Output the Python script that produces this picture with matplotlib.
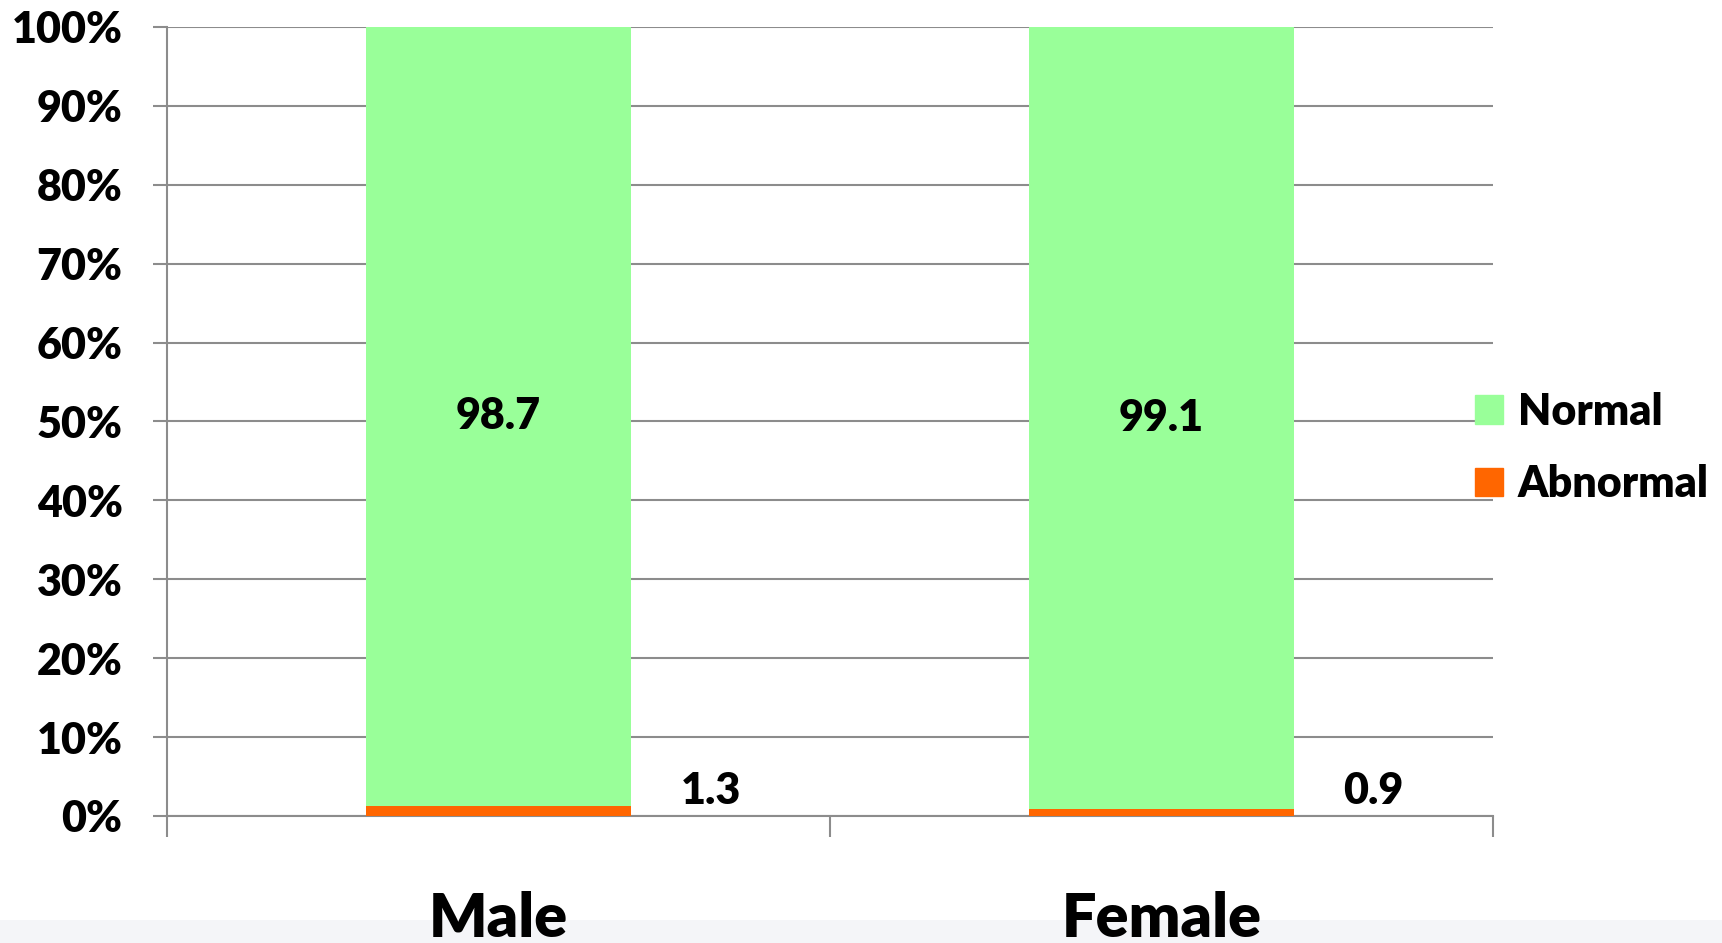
import matplotlib.pyplot as plt
from matplotlib.patches import Rectangle, Patch

plt.rcParams['font.family'] = ['Lato', 'DejaVu Sans']
plt.rcParams['font.weight'] = 'heavy'

groups = ["Male", "Female"]
normal = [98.7, 99.1]
abnormal = [1.3, 0.9]

fig = plt.figure(figsize=(17.22, 9.43), dpi=100)
ax = fig.add_axes([0.097, 0.1347, 0.77, 0.8367])

# faint band along the bottom edge of the original image (behind everything)
fig.patches.append(Rectangle((0, 0), 1, 23 / 943, transform=fig.transFigure,
                             facecolor='#f4f5f8', edgecolor='none', zorder=-5))

x = range(len(groups))
ax.bar(x, abnormal, width=0.4, color='#ff6600', zorder=3, label='Abnormal')
ax.bar(x, normal, width=0.4, bottom=abnormal, color='#99ff99', zorder=3, label='Normal')

for i in x:
    ax.text(i, abnormal[i] + normal[i] / 2, f"{normal[i]:.1f}", ha='center', va='center',
            fontsize=31, fontweight='heavy', zorder=4)
    ax.text(i + 0.32, 3.2, f"{abnormal[i]:.1f}", ha='center', va='center',
            fontsize=31, fontweight='heavy', zorder=4)

ax.set_xlim(-0.5, 1.5)
ax.set_ylim(0, 100)
ax.set_yticks(range(0, 101, 10))
ax.set_yticklabels([f"{v}%" for v in range(0, 101, 10)], fontsize=31, fontweight='heavy')
ax.set_xticks(list(x))
ax.set_xticklabels(groups, fontsize=44, fontweight='heavy')
ax.set_xticks([-0.5, 0.5, 1.5], minor=True)
ax.tick_params(axis='x', which='major', length=0, pad=54)
ax.tick_params(axis='x', which='minor', length=15, width=1.5, color='#8c8c8c')
ax.tick_params(axis='y', length=10, width=1.5, color='#8c8c8c', pad=22)

ax.grid(axis='y', color='#8c8c8c', linewidth=1.5, zorder=0)
ax.set_axisbelow(True)
for s in ['top', 'right']:
    ax.spines[s].set_visible(False)
for s in ['left', 'bottom']:
    ax.spines[s].set_color('#8c8c8c')
    ax.spines[s].set_linewidth(1.5)

handles = [Patch(color='#99ff99', label='Normal'), Patch(color='#ff6600', label='Abnormal')]
fig.legend(handles=handles, loc='center left', bbox_to_anchor=(0.834, 0.525), frameon=False,
           prop={'size': 31, 'weight': 'heavy'}, handlelength=0.65, handleheight=0.65,
           handletextpad=0.35, labelspacing=0.75)

fig.savefig("out.png", dpi=100)
